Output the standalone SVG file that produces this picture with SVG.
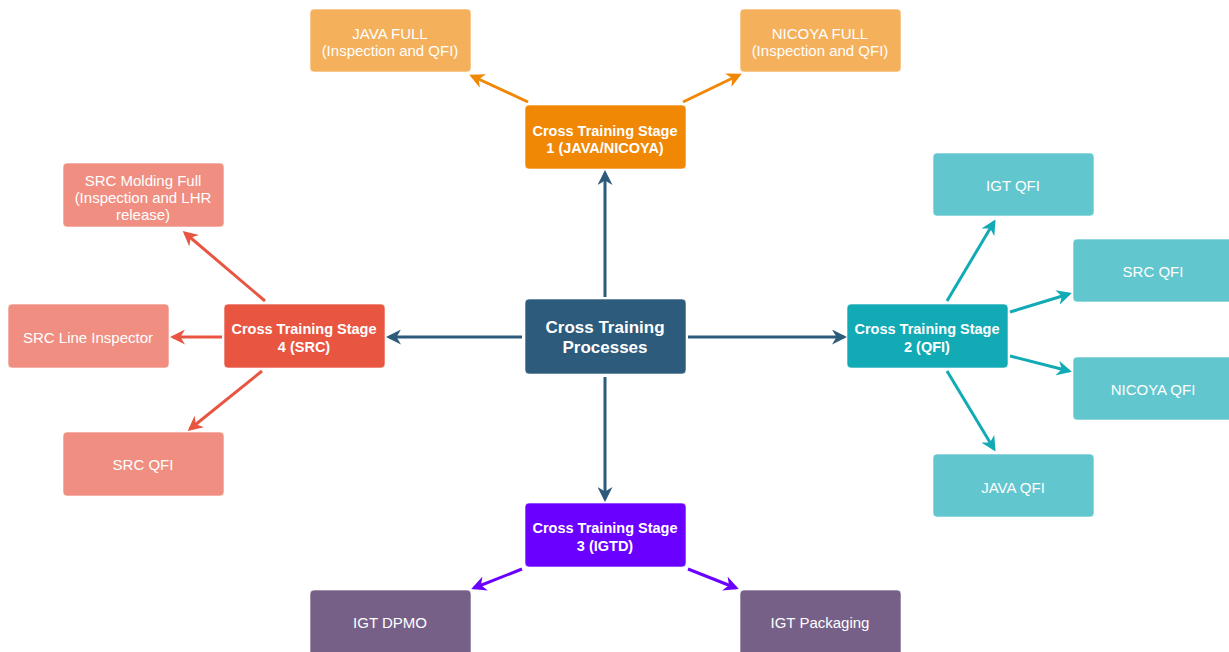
<svg xmlns="http://www.w3.org/2000/svg" width="1229" height="652" viewBox="0 0 1229 652">
<defs>
<style>
.n rect{rx:4;ry:4;stroke:#ffffff;stroke-opacity:0.6;stroke-width:1}
.t{font-family:"Liberation Sans",Arial,sans-serif;fill:#ffffff;text-anchor:middle;font-size:15px}
.b{font-weight:bold;font-size:14.5px}
.c{font-size:17px;font-weight:bold}
.e{fill:none;stroke-width:3}
</style>
<marker id="mB" viewBox="0 0 10 10" refX="8" refY="5" markerWidth="5" markerHeight="5" orient="auto" markerUnits="strokeWidth"><path d="M0,0 L10,5 L0,10 L3,5 z" fill="#2d5b7c"/></marker>
<marker id="mO" viewBox="0 0 10 10" refX="8" refY="5" markerWidth="5" markerHeight="5" orient="auto" markerUnits="strokeWidth"><path d="M0,0 L10,5 L0,10 L3,5 z" fill="#f08705"/></marker>
<marker id="mR" viewBox="0 0 10 10" refX="8" refY="5" markerWidth="5" markerHeight="5" orient="auto" markerUnits="strokeWidth"><path d="M0,0 L10,5 L0,10 L3,5 z" fill="#e85642"/></marker>
<marker id="mT" viewBox="0 0 10 10" refX="8" refY="5" markerWidth="5" markerHeight="5" orient="auto" markerUnits="strokeWidth"><path d="M0,0 L10,5 L0,10 L3,5 z" fill="#12aab5"/></marker>
<marker id="mP" viewBox="0 0 10 10" refX="8" refY="5" markerWidth="5" markerHeight="5" orient="auto" markerUnits="strokeWidth"><path d="M0,0 L10,5 L0,10 L3,5 z" fill="#6a00ff"/></marker>
</defs>
<rect width="1229" height="652" fill="#ffffff"/>
<g id="connectors">
<path class="e" stroke="#2d5b7c" marker-end="url(#mB)" d="M605,297 L605,173"/>
<path class="e" stroke="#2d5b7c" marker-end="url(#mB)" d="M522,337 L389,337"/>
<path class="e" stroke="#2d5b7c" marker-end="url(#mB)" d="M688,337 L844,337"/>
<path class="e" stroke="#2d5b7c" marker-end="url(#mB)" d="M605,377 L605,499"/>
<path class="e" stroke="#f08705" marker-end="url(#mO)" d="M528,102 L472,76"/>
<path class="e" stroke="#f08705" marker-end="url(#mO)" d="M683,102 L739,75"/>
<path class="e" stroke="#e85642" marker-end="url(#mR)" d="M265,301 L185,233"/>
<path class="e" stroke="#e85642" marker-end="url(#mR)" d="M222,337 L173,337"/>
<path class="e" stroke="#e85642" marker-end="url(#mR)" d="M262,371 L190,429"/>
<path class="e" stroke="#12aab5" marker-end="url(#mT)" d="M947,301 L994,222"/>
<path class="e" stroke="#12aab5" marker-end="url(#mT)" d="M1010,312 L1069,294"/>
<path class="e" stroke="#12aab5" marker-end="url(#mT)" d="M1010,356 L1069,371"/>
<path class="e" stroke="#12aab5" marker-end="url(#mT)" d="M947,371 L994,449"/>
<path class="e" stroke="#6a00ff" marker-end="url(#mP)" d="M522,569 L474,588"/>
<path class="e" stroke="#6a00ff" marker-end="url(#mP)" d="M688,569 L736,588"/>
</g>
<g id="center" class="n"><rect x="525" y="299" width="161" height="75" fill="#2d5b7c"/><text class="t c" x="605" y="333">Cross Training</text><text class="t c" x="605" y="353">Processes</text></g>
<g id="stage1" class="n"><rect x="525" y="105" width="161" height="64" fill="#f08705"/><text class="t b" x="605" y="136">Cross Training Stage</text><text class="t b" x="605" y="153">1 (JAVA/NICOYA)</text></g>
<g id="javafull" class="n"><rect x="310" y="9" width="161" height="63" fill="#f5b05b"/><text class="t" x="390" y="39">JAVA FULL</text><text class="t" x="390" y="56">(Inspection and QFI)</text></g>
<g id="nicoyafull" class="n"><rect x="740" y="9" width="161" height="63" fill="#f5b05b"/><text class="t" x="820" y="39">NICOYA FULL</text><text class="t" x="820" y="56">(Inspection and QFI)</text></g>
<g id="stage4" class="n"><rect x="224" y="304" width="161" height="64" fill="#e85642"/><text class="t b" x="304" y="334">Cross Training Stage</text><text class="t b" x="304" y="352">4 (SRC)</text></g>
<g id="srcmolding" class="n"><rect x="63" y="163" width="161" height="64" fill="#f08f81"/><text class="t" x="143" y="186">SRC Molding Full</text><text class="t" x="143" y="203">(Inspection and LHR</text><text class="t" x="143" y="220">release)</text></g>
<g id="srcline" class="n"><rect x="8" y="304" width="161" height="64" fill="#f08f81"/><text class="t" x="88" y="343">SRC Line Inspector</text></g>
<g id="srcqfi4" class="n"><rect x="63" y="432" width="161" height="64" fill="#f08f81"/><text class="t" x="143" y="470">SRC QFI</text></g>
<g id="stage2" class="n"><rect x="847" y="304" width="161" height="64" fill="#12aab5"/><text class="t b" x="927" y="334">Cross Training Stage</text><text class="t b" x="927" y="352">2 (QFI)</text></g>
<g id="igtqfi" class="n"><rect x="933" y="153" width="161" height="63" fill="#62c6ce"/><text class="t" x="1013" y="191">IGT QFI</text></g>
<g id="srcqfi2" class="n"><rect x="1073" y="239" width="161" height="63" fill="#62c6ce"/><text class="t" x="1153" y="277">SRC QFI</text></g>
<g id="nicoyaqfi" class="n"><rect x="1073" y="357" width="161" height="63" fill="#62c6ce"/><text class="t" x="1153" y="395">NICOYA QFI</text></g>
<g id="javaqfi" class="n"><rect x="933" y="454" width="161" height="63" fill="#62c6ce"/><text class="t" x="1013" y="493">JAVA QFI</text></g>
<g id="stage3" class="n"><rect x="525" y="503" width="161" height="64" fill="#6a00ff"/><text class="t b" x="605" y="533">Cross Training Stage</text><text class="t b" x="605" y="551">3 (IGTD)</text></g>
<g id="igtdpmo" class="n"><rect x="310" y="590" width="161" height="66" fill="#776088"/><text class="t" x="390" y="628">IGT DPMO</text></g>
<g id="igtpack" class="n"><rect x="740" y="590" width="161" height="66" fill="#776088"/><text class="t" x="820" y="628">IGT Packaging</text></g>
</svg>
